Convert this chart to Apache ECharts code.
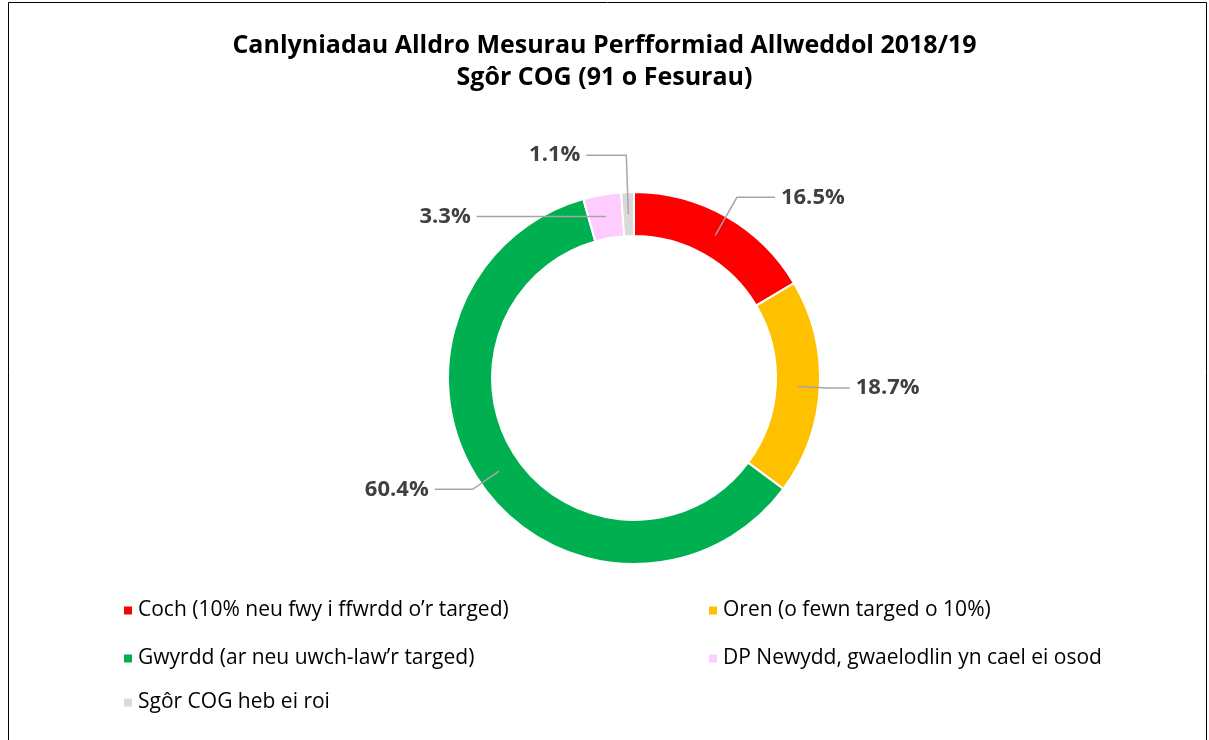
<!DOCTYPE html>
<html><head><meta charset="utf-8">
<script src="https://cdn.jsdelivr.net/npm/echarts@6/dist/echarts.min.js"></script>
<style>html,body{margin:0;padding:0;background:#fff}#c{width:1209px;height:740px}</style>
</head><body><div id="c"></div>
<script>
const categories = [
  "Coch (10% neu fwy i ffwrdd o\u2019r targed)",
  "Oren (o fewn targed o 10%)",
  "Gwyrdd (ar neu uwch-law\u2019r targed)",
  "DP Newydd, gwaelodlin yn cael ei osod",
  "Sg\u00f4r COG heb ei roi"
];
const counts = [15, 17, 55, 3, 1];
const titleLines = ["Canlyniadau Alldro Mesurau Perfformiad Allweddol 2018/19", "Sg\u00f4r COG (91 o Fesurau)"];

// styling (not data)
const colors = ["#FF0000", "#FFC000", "#00B050", "#FFCCFF", "#D9D9D9"];
const lineLen = [[22, 38], [8, 22], [10, 38], [2, 125], [37, 40]];
const flatLine = [false, false, false, true, false];
const CENTER = [634, 378], R_IN = 142, R_OUT = 186, R_MID = 164;

const total = counts.reduce((a, b) => a + b, 0);
const chart = echarts.init(document.getElementById('c'));
const font = "Open Sans";
const legendPos = [[117, 595], [702, 595], [117, 643], [702, 643], [117, 687]];
const pieData = categories.map((c, i) => ({
  name: c, value: counts[i], itemStyle: {color: colors[i]},
  labelLine: {length: lineLen[i][0], length2: lineLen[i][1]}
}));
chart.setOption({
  animation: false,
  title: {
    text: titleLines.join('\n'), left: 'center', top: 25,
    textStyle: {fontFamily: font, fontWeight: 'bold', fontSize: 25, color: '#000', lineHeight: 32}
  },
  legend: categories.map((c, i) => ({
    data: [c], left: legendPos[i][0], top: legendPos[i][1],
    icon: 'rect', itemWidth: 10, itemHeight: 10, itemGap: 7,
    textStyle: {fontFamily: font, fontSize: 21, color: '#000'},
    selectedMode: false
  })),
  graphic: [{type: 'rect', shape: {x: 8.5, y: 2.5, width: 1198, height: 760}, style: {fill: 'none', stroke: '#000', lineWidth: 1}, silent: true}],
  series: [{
    type: 'pie', center: CENTER, radius: [R_IN, R_OUT],
    startAngle: 90, clockwise: true, silent: true,
    data: pieData,
    itemStyle: {borderColor: '#fff', borderWidth: 2},
    label: {show: false}, labelLine: {show: false}
  }, {
    type: 'pie', center: CENTER, radius: [R_IN, R_OUT], z: 5,
    startAngle: 90, clockwise: true, avoidLabelOverlap: false, silent: true,
    data: pieData.map(d => Object.assign({}, d, {itemStyle: {color: 'rgba(0,0,0,0)'}})),
    itemStyle: {borderWidth: 0},
    label: {
      show: true, position: 'outside', distanceToLabelLine: 6,
      formatter: p => (p.value / total * 100).toFixed(1) + '%',
      fontFamily: font, fontWeight: 'bold', fontSize: 22, color: '#404040'
    },
    labelLayout: p => {
      const pts = p.labelLinePoints;
      if (!pts) return {};
      const k = R_MID / R_OUT;
      const s = [CENTER[0] + (pts[0][0] - CENTER[0]) * k, CENTER[1] + (pts[0][1] - CENTER[1]) * k];
      if (flatLine[p.dataIndex]) {
        const dy = s[1] - pts[2][1];
        return {dy: dy, labelLinePoints: [s, [s[0], s[1]], [pts[2][0], s[1]]]};
      }
      return {labelLinePoints: [s, pts[1], pts[2]]};
    },
    labelLine: {show: true, lineStyle: {color: '#A6A6A6', width: 1.5}}
  }]
});
</script></body></html>
